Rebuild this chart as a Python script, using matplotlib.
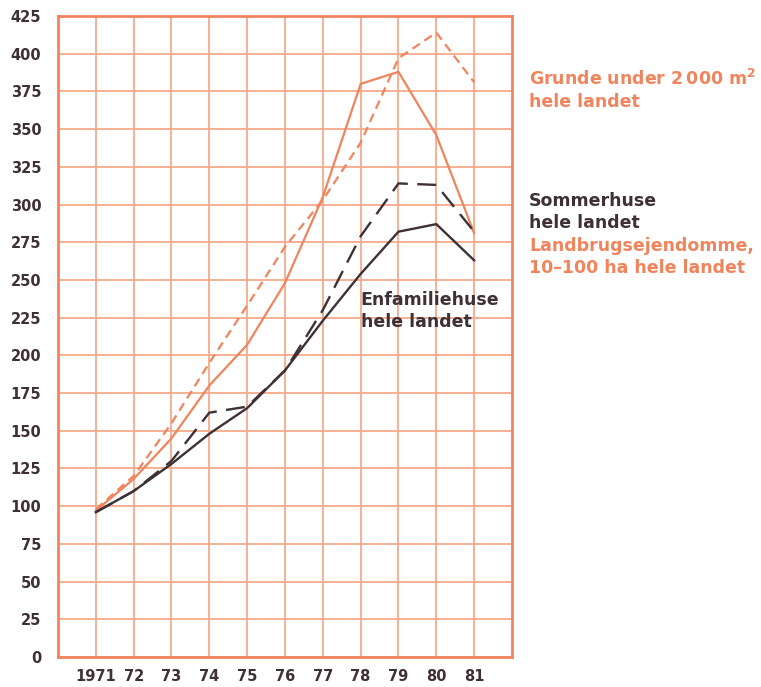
import matplotlib.pyplot as plt

# Data
years = [1971, 1972, 1973, 1974, 1975, 1976, 1977, 1978, 1979, 1980, 1981]
xlabels = ['1971', '72', '73', '74', '75', '76', '77', '78', '79', '80', '81']

grunde = [98, 120, 155, 195, 233, 272, 303, 341, 397, 414, 381]
landbrug = [97, 118, 145, 180, 207, 248, 305, 380, 388, 346, 281]
sommerhuse = [96, 110, 130, 162, 166, 190, 230, 279, 314, 313, 282]
enfamilie = [96, 110, 128, 148, 165, 190, 223, 254, 282, 287, 263]

orange = '#F0845C'
grid_c = '#F7A98A'
dark = '#3E3034'

fig = plt.figure(figsize=(7.61, 6.87), dpi=100)
ax = fig.add_axes([0.0762, 0.0437, 0.5966, 0.933])

ax.plot(years, grunde, color=orange, lw=1.6, ls=(0, (4, 2.5)))
ax.plot(years, landbrug, color=orange, lw=1.6)
ax.plot(years, sommerhuse, color=dark, lw=1.7, ls=(0, (8, 4)))
ax.plot(years, enfamilie, color=dark, lw=1.7)

ax.set_xlim(1970, 1982)
ax.set_ylim(0, 425)
ax.set_xticks(years)
ax.set_xticklabels(xlabels)
ax.set_yticks(range(0, 426, 25))
ax.grid(True, color=grid_c, lw=1.3)
ax.set_axisbelow(True)
for s in ax.spines.values():
    s.set_color(orange)
    s.set_linewidth(2)
ax.tick_params(length=0, colors=dark, labelsize=10.5)
ax.tick_params(axis='y', pad=12)
ax.tick_params(axis='x', pad=9)
for lab in ax.get_xticklabels() + ax.get_yticklabels():
    lab.set_fontweight('bold')

# labels
kw = dict(fontsize=12.5, fontweight='bold', transform=ax.transData, clip_on=False)
ax.text(1982.45, 376, 'Grunde under 2\u2009000 m$^{\\mathbf{2}}$\nhele landet',
        color=orange, va='center', linespacing=1.3, **kw)
ax.text(1982.45, 295, 'Sommerhuse\nhele landet', color=dark, va='center',
        linespacing=1.3, **kw)
ax.text(1982.45, 265, 'Landbrugsejendomme,\n10\u2013100 ha hele landet', color=orange,
        va='center', linespacing=1.3, **kw)
ax.text(1978.0, 229.5, 'Enfamiliehuse\nhele landet', color=dark, va='center',
        linespacing=1.3, **kw)

fig.savefig('out.png', dpi=100)
